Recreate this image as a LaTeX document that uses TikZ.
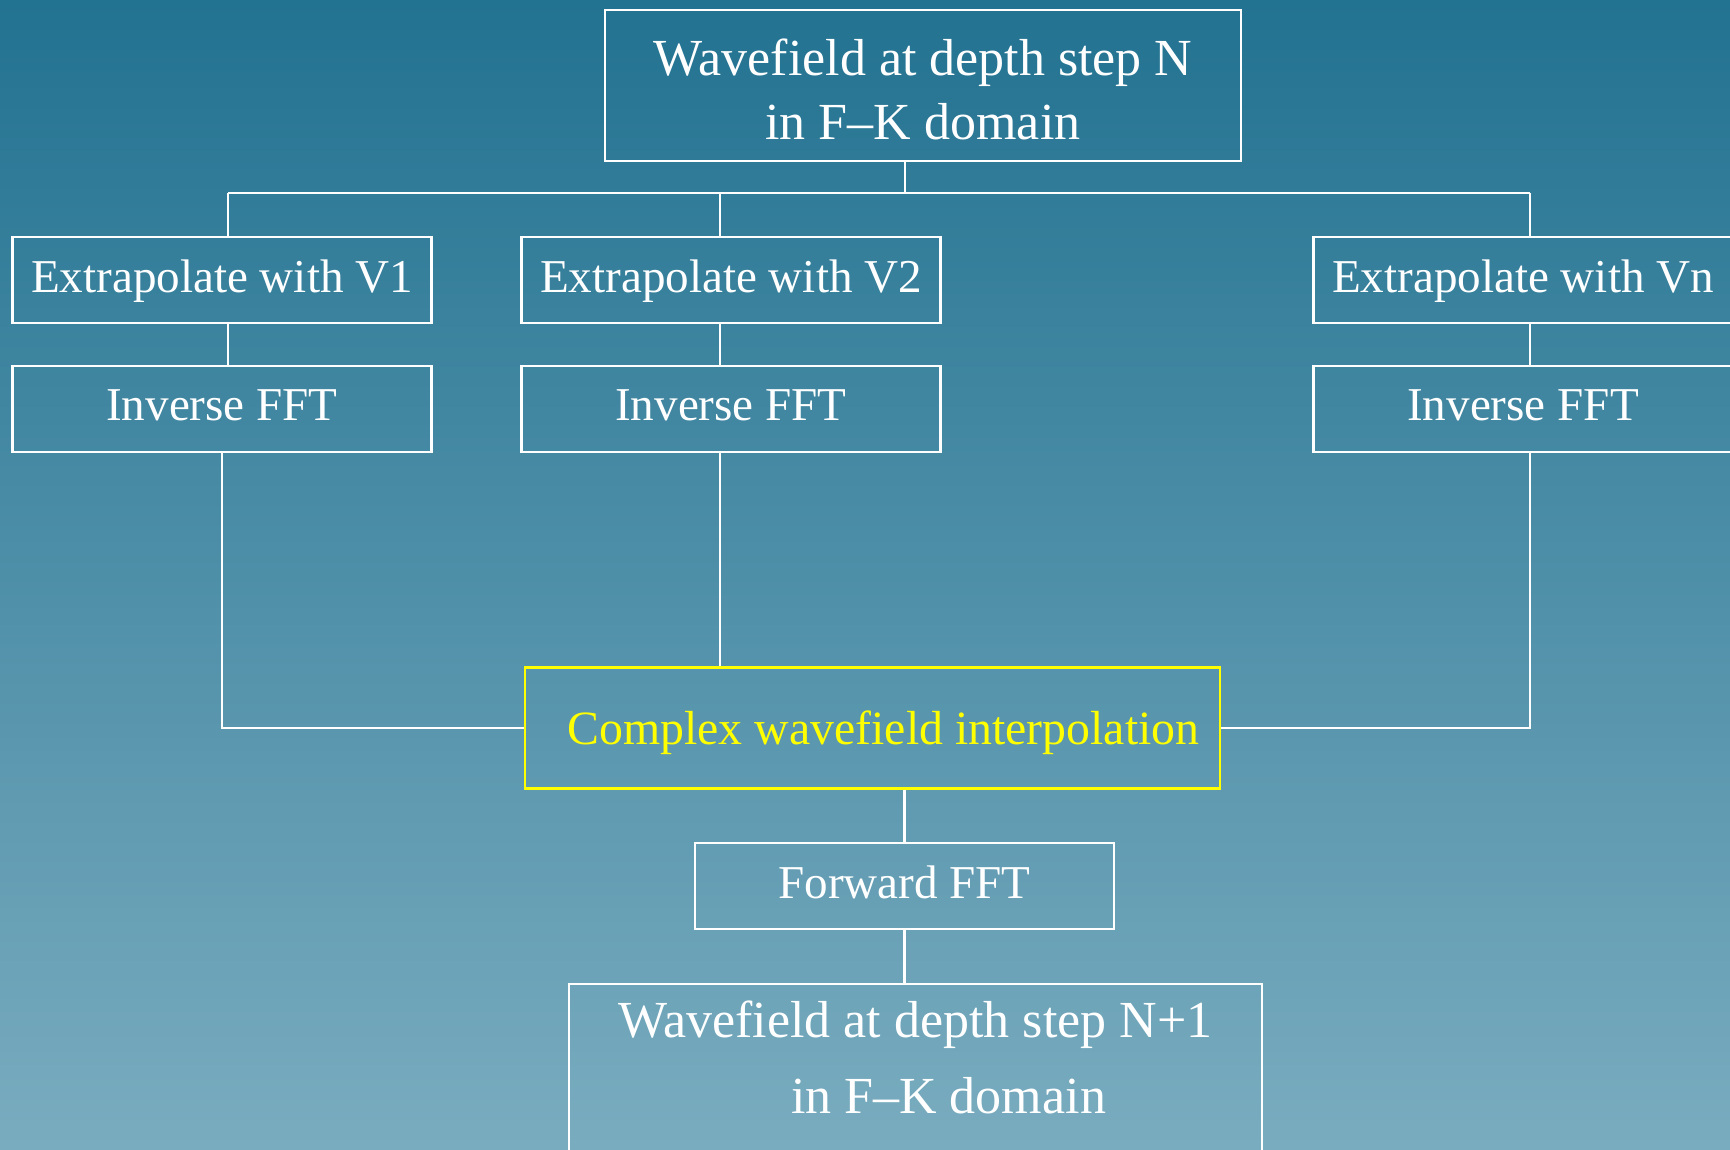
\documentclass[tikz,border=0pt]{standalone}
\usepackage{fontspec}
\setmainfont{Liberation Serif}
\definecolor{bgtop}{RGB}{34,114,145}
\definecolor{bgbot}{RGB}{122,172,191}
\definecolor{hilite}{RGB}{255,255,0}
\begin{document}
\begin{tikzpicture}[
    box/.style={draw=white, line width=0.6pt, text=white, inner sep=0pt,
        minimum width=4.19cm, minimum height=0.86cm, text depth=0.22em,
        font=\fontsize{13.4}{16}\selectfont},
    bigbox/.style={draw=white, line width=0.6pt, text=white, inner sep=0pt,
        minimum width=6.36cm, minimum height=1.51cm, align=center,
        font=\fontsize{14.8}{18.2}\selectfont},
    hotbox/.style={box, draw=hilite, text=hilite, line width=0.8pt,
        minimum width=6.95cm, minimum height=1.21cm, text height=12.4pt, text depth=2.95pt,
        font=\fontsize{13.6}{16}\selectfont},
    link/.style={draw=white, line width=0.6pt}
]
\useasboundingbox (0,0) rectangle (17.30,-11.49);
\shade[top color=bgtop, bottom color=bgbot] (0,0) rectangle (17.30,-11.49);

   % top of the step
   \node[bigbox] at (9.23,-0.855) (wN) {\rule{0pt}{12.6pt}Wavefield at depth step N\\in F--K domain};

   % one branch per velocity
   \node[box] at (2.22,-2.80)  (ext1) {Extrapolate with V1};
   \node[box] at (7.31,-2.80)  (ext2) {Extrapolate with V2};
   \node[box] at (15.23,-2.80) (extn) {Extrapolate with Vn};
   \node[box] at (2.22,-4.09)  (inv1) {Inverse FFT};
   \node[box] at (7.31,-4.09)  (inv2) {Inverse FFT};
   \node[box] at (15.23,-4.09) (invn) {Inverse FFT};

   % merge and back to F-K
   \node[hotbox] at (8.725,-7.28) (cwi) {\hspace*{0.22cm}Complex wavefield interpolation};
   \node[box] at (9.045,-8.86) (fwd) {Forward FFT};
   \node[bigbox, anchor=north, minimum width=6.93cm, inner ysep=0.165cm, text depth=1.6cm]
        at (9.155,-9.83) (wN1) {Wavefield at depth step N+1\\[3.5pt]\hspace*{0.66cm}in F--K domain};

   \coordinate (b0) at (9.05,-1.93);
   \coordinate (b1) at (2.28,-1.93);
   \coordinate (b2) at (7.20,-1.93);
   \coordinate (bn) at (15.30,-1.93);

   \draw[link] (b1) -- (bn);
   \draw[link] (b0) -- (b0 |- wN.south);

   \draw[link] (b1) -- (b1 |- ext1.north);
   \draw[link] (b2) -- (b2 |- ext2.north);
   \draw[link] (bn) -- (bn |- extn.north);

   \draw[link] (b1 |- ext1.south) -- (b1 |- inv1.north);
   \draw[link] (b2 |- ext2.south) -- (b2 |- inv2.north);
   \draw[link] (bn |- extn.south) -- (bn |- invn.north);

   \draw[link] (inv1.south) |- (cwi.west);
   \draw[link] (b2 |- inv2.south) -- (b2 |- cwi.north);
   \draw[link] (bn |- invn.south) |- (cwi.east);

   \draw[link] (fwd.north |- cwi.south) -- (fwd.north);
   \draw[link] (fwd.south) -- (fwd.south |- wN1.north);

\end{tikzpicture}
\end{document}
